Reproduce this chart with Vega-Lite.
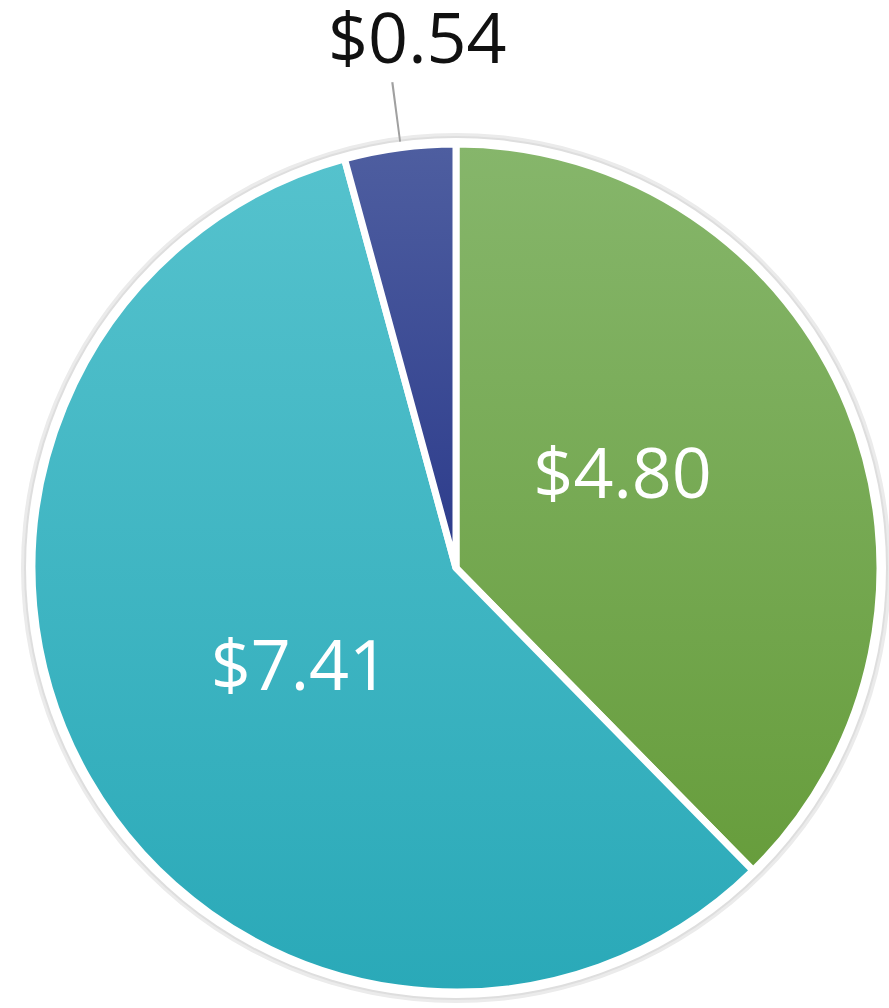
{
  "$schema": "https://vega.github.io/schema/vega-lite/v6.json",
  "width": 880,
  "height": 880,
  "autosize": {"type": "none"},
  "padding": {"left": 16, "top": 128, "right": 0, "bottom": 0},
  "background": "white",
  "config": {"view": {"stroke": null}},
  "data": {"values": [
    {"name": "green", "label": "$4.80", "value": 4.80, "order": 1},
    {"name": "teal", "label": "$7.41", "value": 7.41, "order": 2},
    {"name": "blue", "label": "$0.54", "value": 0.54, "order": 3}
  ]},
  "layer": [
    {
      "data": {"values": [{"ring": "shadow"}]},
      "mark": {"type": "arc", "radius": 435, "fill": "#ebebeb"},
      "encoding": {}
    },
    {
      "data": {"values": [{"ring": "shadow2"}]},
      "mark": {"type": "arc", "radius": 432, "fill": "#dedede"},
      "encoding": {}
    },
    {
      "data": {"values": [{"ring": "border"}]},
      "mark": {"type": "arc", "radius": 430, "fill": "white"},
      "encoding": {}
    },
    {
      "mark": {"type": "arc", "radius": 424, "stroke": "white", "strokeWidth": 7,
        "fill": {"gradient": "linear", "x1": 0, "y1": 0, "x2": 0, "y2": 1,
          "stops": [{"offset": 0, "color": "#86b66b"}, {"offset": 1, "color": "#679d3c"}]}},
      "encoding": {
        "theta": {"field": "value", "type": "quantitative", "stack": true},
        "order": {"field": "order", "type": "quantitative"},
        "opacity": {"condition": {"test": "datum.name === 'green'", "value": 1}, "value": 0}
      }
    },
    {
      "mark": {"type": "arc", "radius": 424, "stroke": "white", "strokeWidth": 7,
        "fill": {"gradient": "linear", "x1": 0, "y1": 0, "x2": 0, "y2": 1,
          "stops": [{"offset": 0, "color": "#55c2cd"}, {"offset": 1, "color": "#2aa9b8"}]}},
      "encoding": {
        "theta": {"field": "value", "type": "quantitative", "stack": true},
        "order": {"field": "order", "type": "quantitative"},
        "opacity": {"condition": {"test": "datum.name === 'teal'", "value": 1}, "value": 0}
      }
    },
    {
      "mark": {"type": "arc", "radius": 424, "stroke": "white", "strokeWidth": 7,
        "fill": {"gradient": "linear", "x1": 0, "y1": 0, "x2": 0, "y2": 1,
          "stops": [{"offset": 0, "color": "#4e5ea0"}, {"offset": 1, "color": "#2c3b8b"}]}},
      "encoding": {
        "theta": {"field": "value", "type": "quantitative", "stack": true},
        "order": {"field": "order", "type": "quantitative"},
        "opacity": {"condition": {"test": "datum.name === 'blue'", "value": 1}, "value": 0}
      }
    },
    {
      "data": {"values": [{"t1": 12.481, "t2": 12.490}]},
      "mark": {"type": "arc", "radius": 490, "radius2": 430, "fill": "#a0a0a0"},
      "encoding": {
        "theta": {"field": "t1", "type": "quantitative"},
        "theta2": {"field": "t2"}
      }
    },
    {
      "mark": {"type": "text", "radius": 180, "font": "Open Sans", "fontSize": 70, "fill": "white", "align": "center", "baseline": "alphabetic", "dy": -2, "dx": 0},
      "encoding": {
        "theta": {"field": "value", "type": "quantitative", "stack": true},
        "order": {"field": "order", "type": "quantitative"},
        "text": {"condition": {"test": "datum.name === 'green'", "field": "label"}, "value": ""}
      }
    },
    {
      "mark": {"type": "text", "radius": 180, "font": "Open Sans", "fontSize": 70, "fill": "white", "align": "center", "baseline": "alphabetic", "dy": 32, "dx": 0},
      "encoding": {
        "theta": {"field": "value", "type": "quantitative", "stack": true},
        "order": {"field": "order", "type": "quantitative"},
        "text": {"condition": {"test": "datum.name === 'teal'", "field": "label"}, "value": ""}
      }
    },
    {
      "mark": {"type": "text", "radius": 510, "font": "Open Sans", "fontSize": 70, "fill": "#111111", "align": "center", "baseline": "alphabetic", "dx": 29},
      "encoding": {
        "theta": {"field": "value", "type": "quantitative", "stack": true},
        "order": {"field": "order", "type": "quantitative"},
        "text": {"condition": {"test": "datum.name === 'blue'", "field": "label"}, "value": ""}
      }
    }
  ]
}
